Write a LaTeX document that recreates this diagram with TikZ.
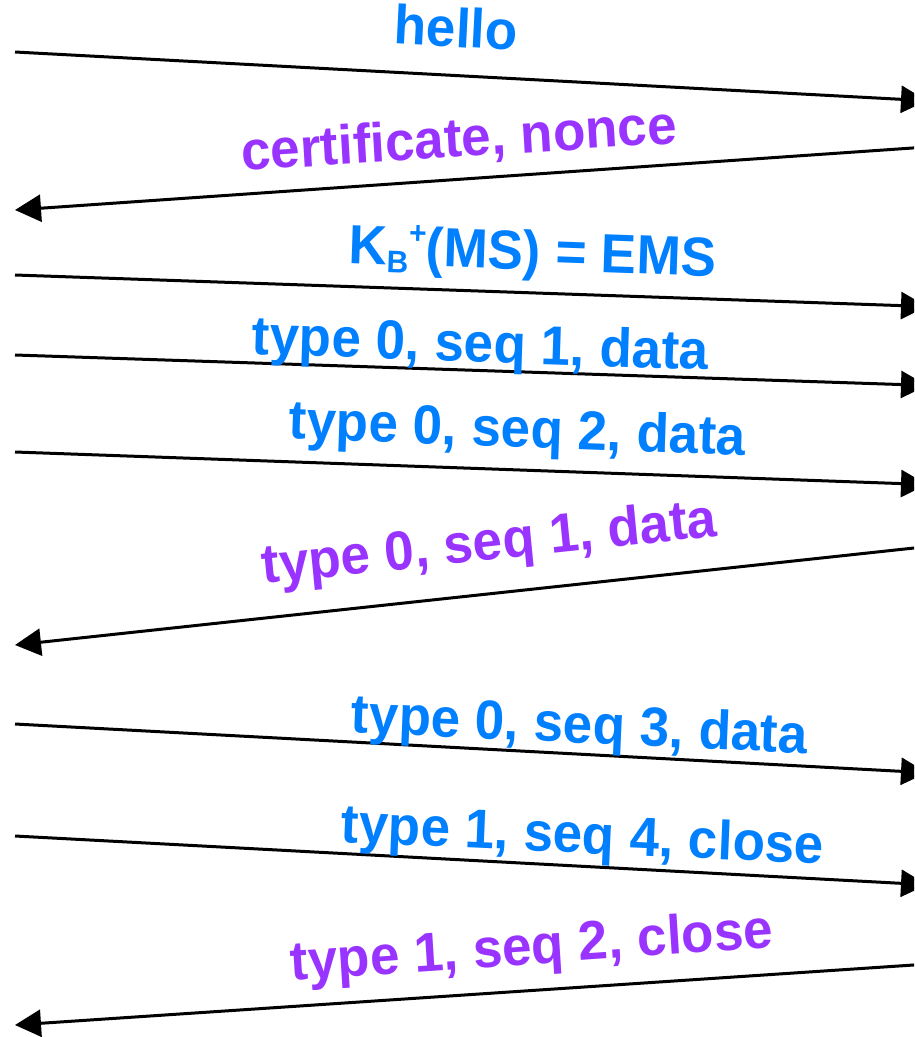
\documentclass[tikz,border=0pt]{standalone}
\usepackage{fontspec}
\setmainfont{Liberation Sans}
\usetikzlibrary{arrows.meta}
\definecolor{msgblue}{RGB}{0,128,255}
\definecolor{msgpurple}{RGB}{153,51,255}
\tikzset{
  msgline/.style={line width=3pt,-{Triangle[length=26pt,width=27pt]}},
  lbl/.style={font=\fontsize{53}{60}\selectfont\bfseries,anchor=base,inner sep=0pt,yscale=1.04},
  lblb/.style={lbl,text=msgblue},
  lblp/.style={lbl,text=msgpurple}
}
\begin{document}
\begin{tikzpicture}[x=1pt,y=-1pt]
\useasboundingbox (0,0) rectangle (914,1037);
\clip (0,0) rectangle (914,1037);
% endpoints
\coordinate (a1) at (15,52);   \coordinate (b1) at (927,100.7);
\coordinate (b2) at (927,147); \coordinate (a2) at (15,210);
\coordinate (a3) at (15,275);  \coordinate (b3) at (927,306.5);
\coordinate (a4) at (15,355);  \coordinate (b4) at (927,385.4);
\coordinate (a5) at (15,452);  \coordinate (b5) at (927,484.5);
\coordinate (b6) at (927,546.6); \coordinate (a6) at (15,645);
\coordinate (a7) at (15,724);  \coordinate (b7) at (927,772.7);
\coordinate (a8) at (15,836);  \coordinate (b8) at (927,884.7);
\coordinate (b9) at (927,964.1); \coordinate (a9) at (15,1025);
% arrows
\draw[msgline] (a1) -- (b1);
\draw[msgline] (b2) -- (a2);
\draw[msgline] (a3) -- (b3);
\draw[msgline] (a4) -- (b4);
\draw[msgline] (a5) -- (b5);
\draw[msgline] (b6) -- (a6);
\draw[msgline] (a7) -- (b7);
\draw[msgline] (a8) -- (b8);
\draw[msgline] (b9) -- (a9);
% labels
\node[lblb,rotate=-3.0] (l1) at (455,47) {hello};
\node[lblp,rotate=3.5] (l2) at (460,157) {certificate, nonce};
\node[lblb,rotate=-2.0] (l3) at (532,270) {K\raisebox{-0.28ex}{\fontsize{30}{30}\selectfont B}\raisebox{0.75ex}{\fontsize{30}{30}\selectfont +}(MS) = EMS};
\node[lblb,rotate=-1.9] (l4) at (480,362) {type 0, seq 1, data};
\node[lblb,rotate=-2.0] (l5) at (517,447) {type 0, seq 2, data};
\node[lblp,rotate=5.8] (l6) at (491,560) {type 0, seq 1, data};
\node[lblb,rotate=-2.5] (l7) at (579,743) {type 0, seq 3, data};
\node[lblb,rotate=-2.5] (l8) at (582,853) {type 1, seq 4, close};
\node[lblp,rotate=3.8] (l9) at (533,964) {type 1, seq 2, close};
\end{tikzpicture}
\end{document}
